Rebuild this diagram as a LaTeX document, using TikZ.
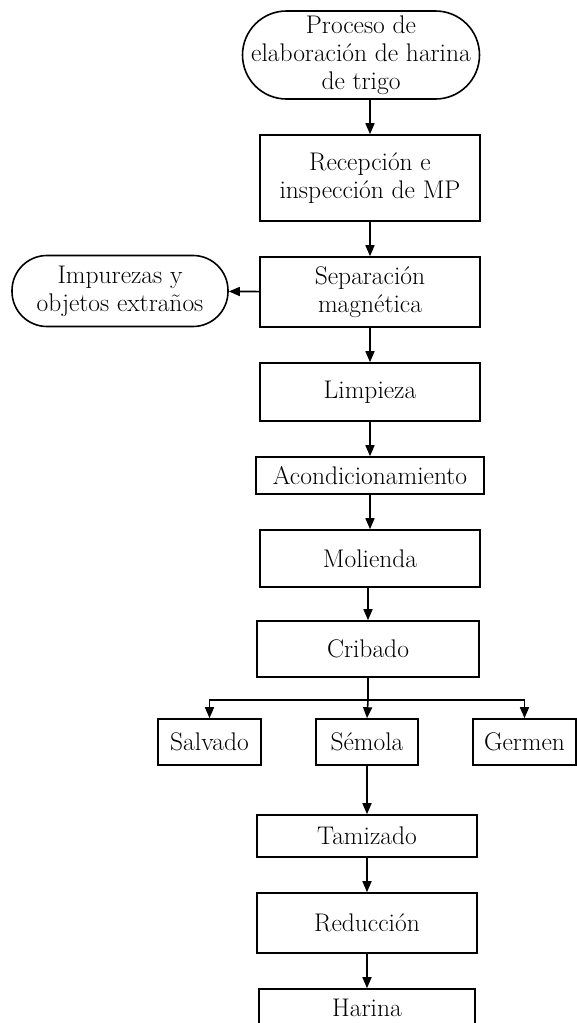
\documentclass[tikz,border=0pt]{standalone}
\usetikzlibrary{arrows.meta}
\begin{document}
\begin{tikzpicture}[x=1pt,y=-1pt,
  every node/.style={font=\fontsize{25.5}{28}\selectfont, align=center, inner sep=0pt},
  stepbox/.style={draw, line width=1.6pt, minimum width=#1},
  stepbox/.default=220pt,
  terminal/.style={draw, line width=1.6pt, rounded corners=#1},
  arr/.style={line width=1.6pt, -{Triangle[length=11pt,width=9pt]}},
  link/.style={line width=1.6pt}]
\useasboundingbox (0,0) rectangle (577,1023);
\clip (0,0) rectangle (577,1023);

% terminals
\node[terminal=44pt, minimum width=237pt, minimum height=88pt] (start) at (361,55)
  {Proceso de\\elaboración de harina\\de trigo};
\node[terminal=35pt, minimum width=216pt, minimum height=71pt] (imp) at (120,291)
  {Impurezas y\\objetos extraños};

% main line of process steps
\node[stepbox, minimum height=86pt] (recep) at (370,178) {Recepción e\\inspección de MP};
\node[stepbox, minimum height=70pt] (sep) at (370,292) {Separación\\magnética};
\node[stepbox, minimum height=58pt] (limp) at (370,392) {Limpieza};
\node[stepbox=228pt, minimum height=37pt] (acond) at (370,475.5) {Acondicionamiento};
\node[stepbox, minimum height=57pt] (mol) at (370,558.5) {Molienda};
\node[stepbox=222pt, minimum height=56pt] (crib) at (368,649) {Cribado};

% products of sieving
\node[stepbox=103pt, minimum height=46pt] (salv) at (209.5,742) {Salvado};
\node[stepbox=102pt, minimum height=46pt] (sem) at (367,742) {Sémola};
\node[stepbox=103pt, minimum height=46pt] (germ) at (524.5,742) {Germen};

\node[stepbox, minimum height=42pt] (tam) at (367,836) {Tamizado};
\node[stepbox, minimum height=60pt] (red) at (367,923) {Reducción};
\node[stepbox=216pt, minimum height=38pt] (har) at (367,1008) {Harina};

% connectors
\draw[arr] (start.south -| recep.north) -- (recep.north);
\draw[arr] (recep) -- (sep);
\draw[arr] (sep) -- (imp);
\draw[arr] (sep) -- (limp);
\draw[arr] (limp) -- (acond);
\draw[arr] (acond) -- (mol);
\draw[arr] (mol.south -| crib.south) -- (crib.north);
\coordinate (split) at (368,700);
\draw[link] (crib.south) -- (split);
\draw[arr] (split) -| (salv.north);
\draw[arr] (split) -| (germ.north);
\draw[arr] (split) -- (sem.north);
\draw[arr] (sem) -- (tam);
\draw[arr] (tam) -- (red);
\draw[arr] (red) -- (har);
\end{tikzpicture}
\end{document}
